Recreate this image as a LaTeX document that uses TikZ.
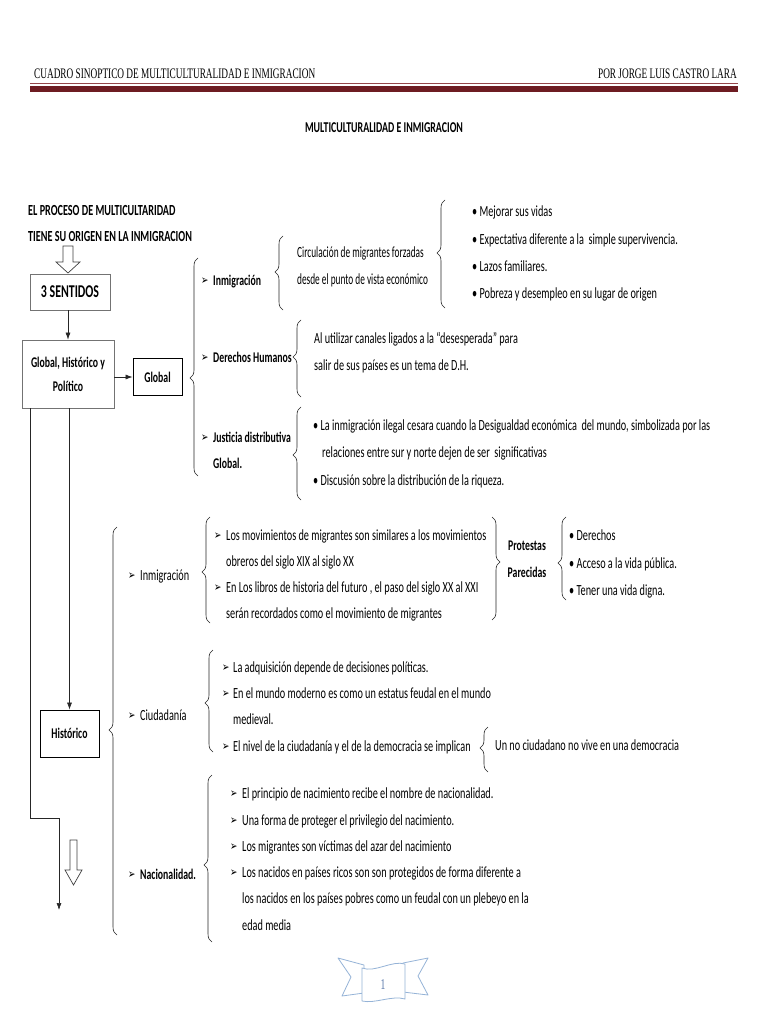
\documentclass[tikz,border=0pt]{standalone}
\usepackage{fontspec}
\setmainfont{Carlito}[FakeStretch=0.66]
\newfontfamily\hdrfont{Liberation Serif}[FakeStretch=0.64]
\newfontfamily\narrowfont{Carlito}[FakeStretch=0.6]
\newfontfamily\symfont{DejaVu Sans}[FakeStretch=0.7]
\usetikzlibrary{decorations.pathreplacing,calc,arrows.meta}
\definecolor{maroon}{RGB}{110,28,34}
\definecolor{maroonlt}{RGB}{150,70,75}
\definecolor{rib}{RGB}{149,179,215}
\definecolor{ribtxt}{RGB}{90,120,170}
\newcommand\LBrc[4]{\pgfmathsetmacro\brasp{(#3-#4)/(#3-#2)}\draw[brc=\brasp] (#1,#3) -- (#1,#2);}
\newcommand\RBrc[4]{\pgfmathsetmacro\brasp{(#4-#2)/(#3-#2)}\draw[brc=\brasp] (#1,#2) -- (#1,#3);}
\tikzset{
  txt/.style={anchor=base west, inner sep=0pt, font=\fontsize{15.5}{17}\selectfont},
  btxt/.style={anchor=base west, inner sep=0pt, font=\fontsize{14.8}{17}\selectfont\bfseries},
  hdr/.style={anchor=base west, inner sep=0pt, font=\hdrfont\fontsize{14.5}{16}\selectfont},
  arwb/.style={anchor=base west, inner sep=0pt, font=\symfont\fontsize{12.5}{12}\selectfont},
  brc/.style={decorate, decoration={brace, amplitude=8pt, aspect=#1}, draw=black!85, line width=0.6pt},
  gbox/.style={draw=black!55, line width=0.8pt, inner sep=0pt, font=\fontsize{14.8}{24}\selectfont\bfseries, align=center},
  kbox/.style={draw=black, line width=0.9pt, inner sep=0pt, font=\fontsize{14.8}{16}\selectfont\bfseries},
  arr/.style={draw=black!85, line width=0.6pt, -{Latex[length=7pt,width=5pt]}},
  hollow/.style={draw=black!75, line width=0.7pt, fill=white},
  ribbon/.style={draw=rib, line width=0.8pt, fill=white, line join=round}
}
\begin{document}
\begin{tikzpicture}[x=1pt,y=-1pt]
\useasboundingbox (0,0) rectangle (768,1024);
\fill[white] (0,0) rectangle (768,1024);

% header
\node[hdr] (h1) at (34,79) {CUADRO SINOPTICO DE MULTICULTURALIDAD E INMIGRACION};
\node[hdr, anchor=base east] (h2) at (737,79) {POR JORGE LUIS CASTRO LARA};
\draw[maroonlt, line width=1pt] (30,84) -- (738,84);
\fill[maroon] (30,86.5) rectangle (738,92.5);

% title
\node[inner sep=0pt, font=\fontsize{15}{16}\selectfont\bfseries] (title) at (384,128) {MULTICULTURALIDAD E INMIGRACION};

\node[btxt, font=\fontsize{15.4}{18}\selectfont\bfseries] (p1) at (28,216) {EL PROCESO DE MULTICULTARIDAD};
\node[btxt, font=\fontsize{15.4}{18}\selectfont\bfseries] (p2) at (28,241) {TIENE SU ORIGEN EN LA INMIGRACION};

% hollow arrow 1
\draw[hollow] (63,246) -- (73,246) -- (73,262) -- (80,262) -- (68,273) -- (56,262) -- (63,262) -- cycle;

% boxes
\node[gbox, minimum width=80, minimum height=36, font=\fontsize{18}{20}\selectfont\bfseries] (s3) at (70,292) {3 SENTIDOS};
\node[gbox, minimum width=92, minimum height=68] (ghp) at (68,374) {Global, Histórico y\\Político};
\node[kbox, minimum width=49, minimum height=37] (glob) at (157.5,377) {Global};
\node[kbox, minimum width=59, minimum height=47] (hist) at (69.5,733.5) {Histórico};

\draw[arr] (ghp.north |- s3.south) -- (ghp.north);
\draw[arr] (ghp.east |- glob.west) -- (glob.west);
\draw[arr] (ghp.south -| hist.north) -- (hist.north);
\coordinate (lstart) at ($(ghp.south west)+(9,0)$);
\coordinate (lend) at (59,910);
\draw[arr] (lstart) -- (lstart |- 0,818) -- (lend |- 0,818) -- (lend);

% hollow arrow 2
\draw[hollow] (70,840) -- (77,840) -- (77,870) -- (82,870) -- (73.5,885) -- (65,870) -- (70,870) -- cycle;

% ---------- Global branch ----------
\LBrc{198}{258}{476}{378}
\node[arwb] (a1) at (201,284) {➢};
\node[btxt] (inm1) at (213,285) {Inmigración};
\node[arwb] (a2) at (201,361) {➢};
\node[btxt] (dh) at (213,362) {Derechos Humanos};
\node[arwb] (a3) at (201,441) {➢};
\node[btxt] (jd1) at (213,442) {Justicia distributiva};
\node[btxt] (jd2) at (213,468) {Global.};

\LBrc{283}{236}{310}{272}
\node[txt, font=\narrowfont\fontsize{15.5}{17}\selectfont] (c1) at (297,257) {Circulación de migrantes forzadas};
\node[txt, font=\narrowfont\fontsize{15.5}{17}\selectfont] (c2) at (297,284) {desde el punto de vista económico};

\LBrc{445}{200}{308}{253}
\node[txt] (b1) at (472,217) {• Mejorar sus vidas};
\node[txt] (b2) at (472,244) {• Expectativa diferente a la\ \ simple supervivencia.};
\node[txt] (b3) at (472,271) {• Lazos familiares.};
\node[txt] (b4) at (472,298) {• Pobreza y desempleo en su lugar de origen};

\LBrc{301}{320}{397}{357}
\node[txt] (d1) at (314,343) {Al utilizar canales ligados a la “desesperada” para};
\node[txt] (d2) at (314,370) {salir de sus países es un tema de D.H.};

\LBrc{301}{407}{500}{455}
\node[txt] (j1) at (313,430) {• La inmigración ilegal cesara cuando la Desigualdad económica\ \ del mundo, simbolizada por las};
\node[txt] (j2) at (322,457) {relaciones entre sur y norte dejen de ser\ \ significativas};
\node[txt] (j3) at (313,485) {• Discusión sobre la distribución de la riqueza.};

% ---------- Histórico branch ----------
\LBrc{117}{527}{935}{730}
\node[arwb] (a4) at (128,579) {➢};
\node[txt] (inm2) at (140,580) {Inmigración};

\LBrc{210}{517}{623}{572}
\node[arwb] (a5) at (214,539) {➢};
\node[txt] (m1) at (226,540) {Los movimientos de migrantes son similares a los movimientos};
\node[txt] (m2) at (226,566) {obreros del siglo XIX al siglo XX};
\node[arwb] (a6) at (214,591) {➢};
\node[txt] (m3) at (226,592) {En Los libros de historia del futuro , el paso del siglo XX al XXI};
\node[txt] (m4) at (226,618) {serán recordados como el movimiento de migrantes};

\RBrc{492}{517}{620}{562}
\node[btxt, anchor=base] (pr1) at (527,550) {Protestas};
\node[btxt, anchor=base] (pr2) at (527,577) {Parecidas};

\LBrc{566}{517}{600}{563}
\node[txt] (r1) at (569,540) {• Derechos};
\node[txt] (r2) at (569,568) {• Acceso a la vida pública.};
\node[txt] (r3) at (569,595) {• Tener una vida digna.};

\node[arwb] (a7) at (128,719) {➢};
\node[txt] (ciu) at (140,720) {Ciudadanía};

\LBrc{213}{650}{752}{703}
\node[arwb] (a8) at (222,671) {➢};
\node[txt] (u1) at (233,672) {La adquisición depende de decisiones políticas.};
\node[arwb] (a9) at (222,697) {➢};
\node[txt] (u2) at (233,698) {En el mundo moderno es como un estatus feudal en el mundo};
\node[txt] (u3) at (233,724) {medieval.};
\node[arwb] (a10) at (222,750) {➢};
\node[txt] (u4) at (233,751) {El nivel de la ciudadanía y el de la democracia se implican};

\LBrc{488}{727}{772}{748}
\node[txt] (u5) at (495,750) {Un no ciudadano no vive en una democracia};

\node[arwb] (a11) at (128,878) {➢};
\node[btxt] (nac) at (140,879) {Nacionalidad.};

\LBrc{212}{775}{942}{865}
\node[arwb] (a12) at (230,797) {➢};
\node[txt] (n1) at (242,798) {El principio de nacimiento recibe el nombre de nacionalidad.};
\node[arwb] (a13) at (230,824) {➢};
\node[txt] (n2) at (242,825) {Una forma de proteger el privilegio del nacimiento.};
\node[arwb] (a14) at (230,850) {➢};
\node[txt] (n3) at (242,851) {Los migrantes son víctimas del azar del nacimiento};
\node[arwb] (a15) at (230,876) {➢};
\node[txt] (n4) at (242,877) {Los nacidos en países ricos son son protegidos de forma diferente a};
\node[txt] (n5) at (242,903) {los nacidos en los países pobres como un feudal con un plebeyo en la};
\node[txt] (n6) at (242,930) {edad media};

% page ribbon
\draw[ribbon] (338,958) -- (364,965) -- (364,993) -- (342,996) -- (351,977) -- cycle;
\draw[ribbon] (428,958) -- (403,963) -- (403,992) -- (428,995) -- (418,976) -- cycle;
\draw[ribbon] (362,968) .. controls (375,973) and (392,960) .. (405,964) -- (405,999) .. controls (392,995) and (375,1004) .. (362,1001) -- cycle;
\node[inner sep=0pt, text=ribtxt, font=\hdrfont\fontsize{15}{15}\selectfont] (pg) at (383,985) {1};
\end{tikzpicture}
\end{document}
